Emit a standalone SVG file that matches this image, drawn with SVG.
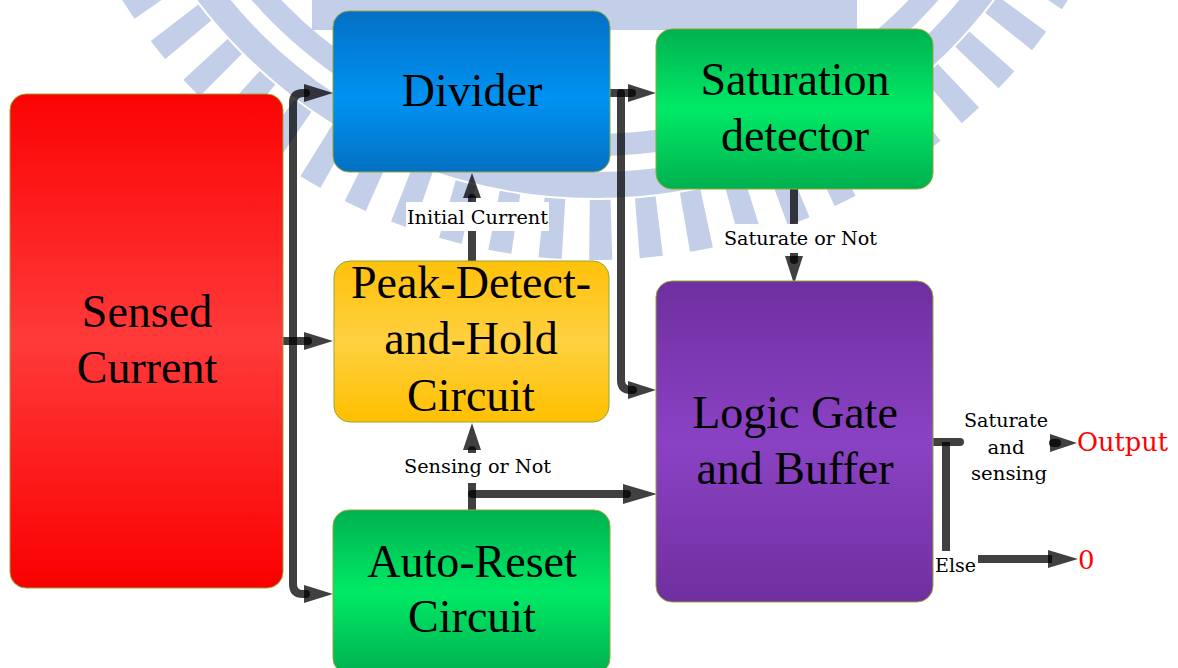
<svg xmlns="http://www.w3.org/2000/svg" width="1178" height="668" viewBox="0 0 1178 668">
<defs>
<linearGradient id="gRed" x1="0" y1="0" x2="0" y2="1">
<stop offset="0" stop-color="#fb0303"/><stop offset="0.5" stop-color="#ff3a3a"/><stop offset="1" stop-color="#fa0000"/>
</linearGradient>
<linearGradient id="gBlue" x1="0" y1="0" x2="0" y2="1">
<stop offset="0" stop-color="#0470c6"/><stop offset="0.55" stop-color="#0092f2"/><stop offset="1" stop-color="#0470c2"/>
</linearGradient>
<linearGradient id="gGreen" x1="0" y1="0" x2="0" y2="1">
<stop offset="0" stop-color="#00b150"/><stop offset="0.5" stop-color="#00ea66"/><stop offset="1" stop-color="#00b04f"/>
</linearGradient>
<linearGradient id="gYellow" x1="0" y1="0" x2="0" y2="1">
<stop offset="0" stop-color="#ffc10a"/><stop offset="0.5" stop-color="#ffd040"/><stop offset="1" stop-color="#ffc000"/>
</linearGradient>
<linearGradient id="gPurple" x1="0" y1="0" x2="0" y2="1">
<stop offset="0" stop-color="#6f2f9f"/><stop offset="0.5" stop-color="#8a42c4"/><stop offset="1" stop-color="#702f9f"/>
</linearGradient>
<style>
.box{stroke:#94a636;stroke-width:1}
.big{font-family:"Liberation Serif","Times New Roman",serif;font-size:46px;text-anchor:middle;fill:#000}
.lbl{font-family:"DejaVu Serif","Liberation Serif",serif;font-size:19px;fill:#000}
.mid{text-anchor:middle}
.red{fill:#ff0000;font-size:26px}
.ln{fill:none;stroke:#000;stroke-opacity:0.75;stroke-width:8;stroke-linecap:round;stroke-linejoin:round}
.lnb{fill:none;stroke:#000;stroke-opacity:0.75;stroke-width:8;stroke-linecap:butt}
.hd{fill:#000;fill-opacity:0.75}
.wm{fill:none;stroke:#b9c6e6}
</style>
</defs>
<rect width="1178" height="668" fill="#ffffff"/>
<g id="watermark" opacity="0.85">
<rect x="312" y="-2" width="545" height="32" fill="#b9c6e6"/>
<circle class="wm" cx="595" cy="-300" r="485" stroke-width="26"/>
<circle class="wm" cx="595" cy="-300" r="530" stroke-width="60" stroke-dasharray="22 26"/>
<circle class="wm" cx="595" cy="-300" r="445" stroke-width="22"/>
</g>
<g id="connectors">
<path class="ln" d="M 282 341 L 308 341"/>
<polygon class="hd" points="304,332 333,341 304,350"/>
<path class="ln" d="M 306 93 L 303 93 Q 293 93 293 103 L 293 584 Q 293 594 303 594 L 306 594"/>
<polygon class="hd" points="304,84 333,93 304,102"/>
<polygon class="hd" points="304,585 333,594 304,603"/>
<path class="ln" d="M 609 93 L 632 93"/>
<path class="ln" d="M 621 93 L 621 380 Q 621 390 631 390 L 633 390"/>
<polygon class="hd" points="628,84 656,93 628,102"/>
<polygon class="hd" points="628,381 656,390 628,399"/>
<path class="ln" d="M 794 189 L 794 260"/>
<polygon class="hd" points="785,256 794,284 803,256"/>
<path class="ln" d="M 472 262 L 472 198"/>
<polygon class="hd" points="463,198 472,173 481,198"/>
<path class="ln" d="M 472 512 L 472 450"/>
<polygon class="hd" points="463,450 472,423 481,450"/>
<path class="ln" d="M 472 494 L 627 494"/>
<polygon class="hd" points="623,484 657,494 623,504"/>
<path class="ln" d="M 932 442 L 960 442"/>
<path class="lnb" d="M 946 442 L 946 551"/>
<path class="ln" d="M 1053 443 L 1057 443"/>
<polygon class="hd" points="1050,434 1077,443 1050,452"/>
<path class="lnb" d="M 978 559 L 1052 559"/>
<polygon class="hd" points="1048,550 1078,559 1048,568"/>
</g>
<g id="sensed">
<rect class="box" x="10" y="94" width="273" height="494" rx="16" fill="url(#gRed)"/>
<text class="big" x="147" y="327">Sensed</text>
<text class="big" x="147" y="383">Current</text>
</g>
<g id="divider">
<rect class="box" x="333" y="11" width="277" height="161" rx="16" fill="url(#gBlue)"/>
<text class="big" x="472" y="106">Divider</text>
</g>
<g id="saturation">
<rect class="box" x="656" y="29" width="277" height="160" rx="16" fill="url(#gGreen)"/>
<text class="big" x="795" y="95">Saturation</text>
<text class="big" x="795" y="151">detector</text>
</g>
<g id="peak">
<rect class="box" x="334" y="261" width="275" height="161" rx="16" fill="url(#gYellow)"/>
<text class="big" x="471" y="298">Peak-Detect-</text>
<text class="big" x="471" y="354">and-Hold</text>
<text class="big" x="471" y="411">Circuit</text>
</g>
<g id="autoreset">
<rect class="box" x="333" y="510" width="277" height="164" rx="16" fill="url(#gGreen)"/>
<text class="big" x="472" y="577">Auto-Reset</text>
<text class="big" x="472" y="632">Circuit</text>
</g>
<g id="logic">
<rect class="box" x="656" y="281" width="277" height="321" rx="16" fill="url(#gPurple)"/>
<text class="big" x="795" y="428">Logic Gate</text>
<text class="big" x="795" y="484">and Buffer</text>
</g>
<g id="labels">
<rect x="406" y="202" width="143" height="29" fill="#ffffff"/>
<text class="lbl mid" x="477.5" y="224" textLength="141" lengthAdjust="spacingAndGlyphs">Initial Current</text>
<rect x="722" y="224" width="156" height="29" fill="#ffffff"/>
<text class="lbl mid" x="800.5" y="245" textLength="153" lengthAdjust="spacingAndGlyphs">Saturate or Not</text>
<rect x="402" y="453" width="151" height="30" fill="#ffffff"/>
<text class="lbl mid" x="477.5" y="473" textLength="147" lengthAdjust="spacingAndGlyphs">Sensing or Not</text>
<text class="lbl mid" x="1006" y="427" textLength="84" lengthAdjust="spacingAndGlyphs">Saturate</text>
<text class="lbl mid" x="1006" y="454" textLength="37" lengthAdjust="spacingAndGlyphs">and</text>
<text class="lbl mid" x="1009" y="480" textLength="76" lengthAdjust="spacingAndGlyphs">sensing</text>
<text class="lbl" x="935" y="572" textLength="41" lengthAdjust="spacingAndGlyphs">Else</text>
<text class="lbl red" x="1077" y="451" textLength="91" lengthAdjust="spacingAndGlyphs">Output</text>
<text class="lbl red" x="1078" y="569">0</text>
</g>
</svg>
